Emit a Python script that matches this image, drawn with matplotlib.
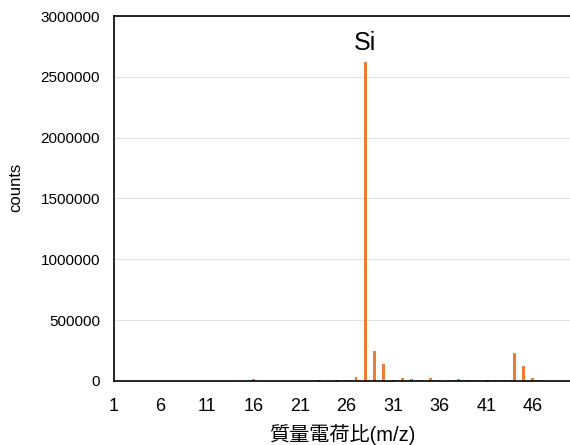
import numpy as np
import matplotlib.pyplot as plt

plt.rcParams['font.family'] = ['Liberation Sans', 'Noto Sans CJK JP', 'DejaVu Sans']

# m/z 1..50 and counts
mz = np.arange(1, 51)
counts = [0, 0, 0, 0, 0, 0, 0, 0, 0, 0,
          0, 0, 0, 0, 0, 14000, 0, 0, 0, 0,
          0, 2000, 5000, 6000, 5000, 6000, 33000, 2625000, 244000, 137000,
          10000, 22000, 12000, 8000, 25000, 8000, 4000, 12000, 8000, 10000,
          8000, 8000, 8000, 228000, 121000, 22000, 10000, 2000, 0, 0]
xticks = [1, 6, 11, 16, 21, 26, 31, 36, 41, 46]
yticks = [0, 500000, 1000000, 1500000, 2000000, 2500000, 3000000]

fig = plt.figure(figsize=(5.7, 4.45), dpi=100)
ax = fig.add_axes([0.2, 0.144, 0.8, 0.82])

ax.bar(mz, counts, width=0.3, color='#ED7D31', zorder=2)

ax.set_xlim(1, 50)
ax.set_ylim(0, 3000000)
ax.set_xticks(xticks)
ax.set_yticks(yticks)
ax.set_yticklabels([str(v) for v in yticks])
ax.tick_params(axis='x', length=0, labelsize=13, pad=12)
ax.tick_params(axis='y', length=0, labelsize=11, pad=10)
ax.grid(axis='y', color='#e2e2e2', linewidth=0.75, zorder=0)

for s in ['left', 'bottom', 'top']:
    ax.spines[s].set_linewidth(1.2)
ax.spines['right'].set_visible(False)

ax.set_xlabel('質量電荷比(m/z)', fontsize=14.5, labelpad=7)
ax.set_ylabel('counts', fontsize=12)
ax.yaxis.set_label_coords(-0.2, 0.53)

ax.text(28, 2780000, 'Si', fontsize=18, ha='center', va='center')

fig.savefig('out.png', dpi=100)
